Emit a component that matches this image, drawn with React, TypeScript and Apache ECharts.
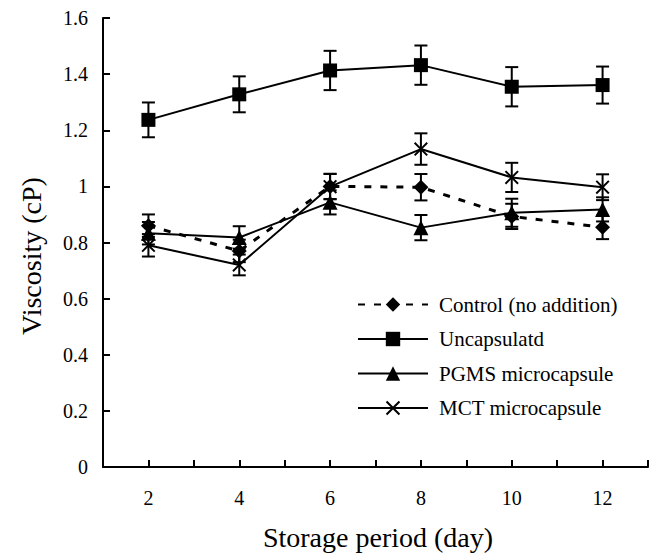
import React, { useEffect, useRef } from "react";
import * as echarts from "echarts";

const days = [2, 4, 6, 8, 10, 12];
const yTicks = [0, 0.2, 0.4, 0.6, 0.8, 1, 1.2, 1.4, 1.6];

const controlVals = [0.86, 0.77, 1.0, 0.997, 0.893, 0.854];
const controlErr = [0.04, 0.04, 0.045, 0.047, 0.045, 0.042];
const uncapVals = [1.237, 1.328, 1.413, 1.432, 1.355, 1.361];
const uncapErr = [0.062, 0.064, 0.07, 0.07, 0.07, 0.066];
const pgmsVals = [0.833, 0.818, 0.943, 0.853, 0.906, 0.918];
const pgmsErr = [0.04, 0.04, 0.043, 0.045, 0.05, 0.043];
const mctVals = [0.79, 0.72, 0.999, 1.133, 1.032, 0.997];
const mctErr = [0.04, 0.037, 0.045, 0.056, 0.052, 0.046];

const seriesNames = [
  "Control (no addition)",
  "Uncapsulatd",
  "PGMS microcapsule",
  "MCT microcapsule",
];

const FONT = "Liberation Serif";
const X_PATH =
  "path://M0,1L1,0L5,4L9,0L10,1L6,5L10,9L9,10L5,6L1,10L0,9L4,5Z";

function errSeries(vals: number[], err: number[]) {
  return {
    type: "custom",
    silent: true,
    z: 3,
    data: days.map((d, i) => [d, vals[i] - err[i], vals[i] + err[i]]),
    encode: { x: 0, y: [1, 2] },
    renderItem: (params: any, api: any) => {
      const x = api.value(0);
      const lo = api.coord([x, api.value(1)]);
      const hi = api.coord([x, api.value(2)]);
      const cap = 6.5;
      const style = { stroke: "#000", lineWidth: 2 };
      return {
        type: "group",
        children: [
          { type: "line", shape: { x1: lo[0], y1: lo[1], x2: hi[0], y2: hi[1] }, style },
          { type: "line", shape: { x1: lo[0] - cap, y1: lo[1], x2: lo[0] + cap, y2: lo[1] }, style },
          { type: "line", shape: { x1: hi[0] - cap, y1: hi[1], x2: hi[0] + cap, y2: hi[1] }, style },
        ],
      };
    },
  };
}

function lineSeries(name: string, vals: number[], symbol: string, size: number, dashed: boolean) {
  return {
    type: "line",
    name,
    z: 4,
    data: days.map((d, i) => [d, vals[i]]),
    symbol,
    symbolSize: size,
    showSymbol: true,
    lineStyle: dashed
      ? { color: "#000", width: 3, type: [7, 9] }
      : { color: "#000", width: 2, type: "solid" },
    itemStyle: { color: "#000", borderWidth: 0 },
  };
}

export default function App() {
  const ref = useRef<HTMLDivElement>(null);
  useEffect(() => {
    if (!ref.current) return;
    const chart = echarts.init(ref.current, undefined, { renderer: "svg" });
    chart.setOption({
      animation: false,
      backgroundColor: "#fff",
      textStyle: { fontFamily: FONT, color: "#000" },
      grid: { left: 103, right: 4, top: 18, bottom: 89 },
      xAxis: {
        type: "value",
        min: 1,
        max: 13,
        interval: 1,
        axisLine: { lineStyle: { color: "#000", width: 2 } },
        axisTick: { inside: true, length: 7, lineStyle: { color: "#000", width: 2 } },
        axisLabel: {
          margin: 21,
          color: "#000",
          fontFamily: FONT,
          fontSize: 20,
          formatter: (v: number) => (days.includes(v) ? String(v) : ""),
        },
        splitLine: { show: false },
      },
      yAxis: {
        type: "value",
        min: yTicks[0],
        max: yTicks[yTicks.length - 1],
        interval: 0.2,
        axisLine: { show: true, lineStyle: { color: "#000", width: 2 } },
        axisTick: { show: true, inside: true, length: 7, lineStyle: { color: "#000", width: 2 } },
        axisLabel: {
          margin: 15,
          color: "#000",
          fontFamily: FONT,
          fontSize: 20,
          formatter: (v: number) => {
            const t = yTicks.find((k) => Math.abs(k - v) < 1e-6);
            return t === undefined ? "" : String(t);
          },
        },
        splitLine: { show: false },
      },
      legend: {
        orient: "vertical",
        left: 352,
        top: 289,
        itemWidth: 70,
        itemHeight: 18,
        itemGap: 13.5,
        textStyle: { color: "#000", fontFamily: FONT, fontSize: 21, lineHeight: 20, padding: [0, 0, 0, 6] },
        data: seriesNames,
      },
      graphic: [
        {
          type: "text",
          x: 378,
          y: 537,
          style: {
            text: "Storage period (day)",
            fontFamily: FONT,
            fontSize: 28,
            fill: "#000",
            textAlign: "center",
            textVerticalAlign: "middle",
          },
        },
        {
          type: "text",
          x: 31,
          y: 256,
          rotation: Math.PI / 2,
          style: {
            text: "Viscosity (cP)",
            fontFamily: FONT,
            fontSize: 28,
            fill: "#000",
            textAlign: "center",
            textVerticalAlign: "middle",
          },
        },
      ],
      series: [
        errSeries(controlVals, controlErr),
        errSeries(uncapVals, uncapErr),
        errSeries(pgmsVals, pgmsErr),
        errSeries(mctVals, mctErr),
        lineSeries(seriesNames[0], controlVals, "diamond", 15, true),
        lineSeries(seriesNames[1], uncapVals, "rect", 14, false),
        lineSeries(seriesNames[2], pgmsVals, "triangle", 15, false),
        lineSeries(seriesNames[3], mctVals, X_PATH, 14, false),
      ],
    });
    return () => chart.dispose();
  }, []);
  return (
    <div
      ref={ref}
      style={{ position: "absolute", left: 0, top: 0, width: 652, height: 556 }}
    />
  );
}
